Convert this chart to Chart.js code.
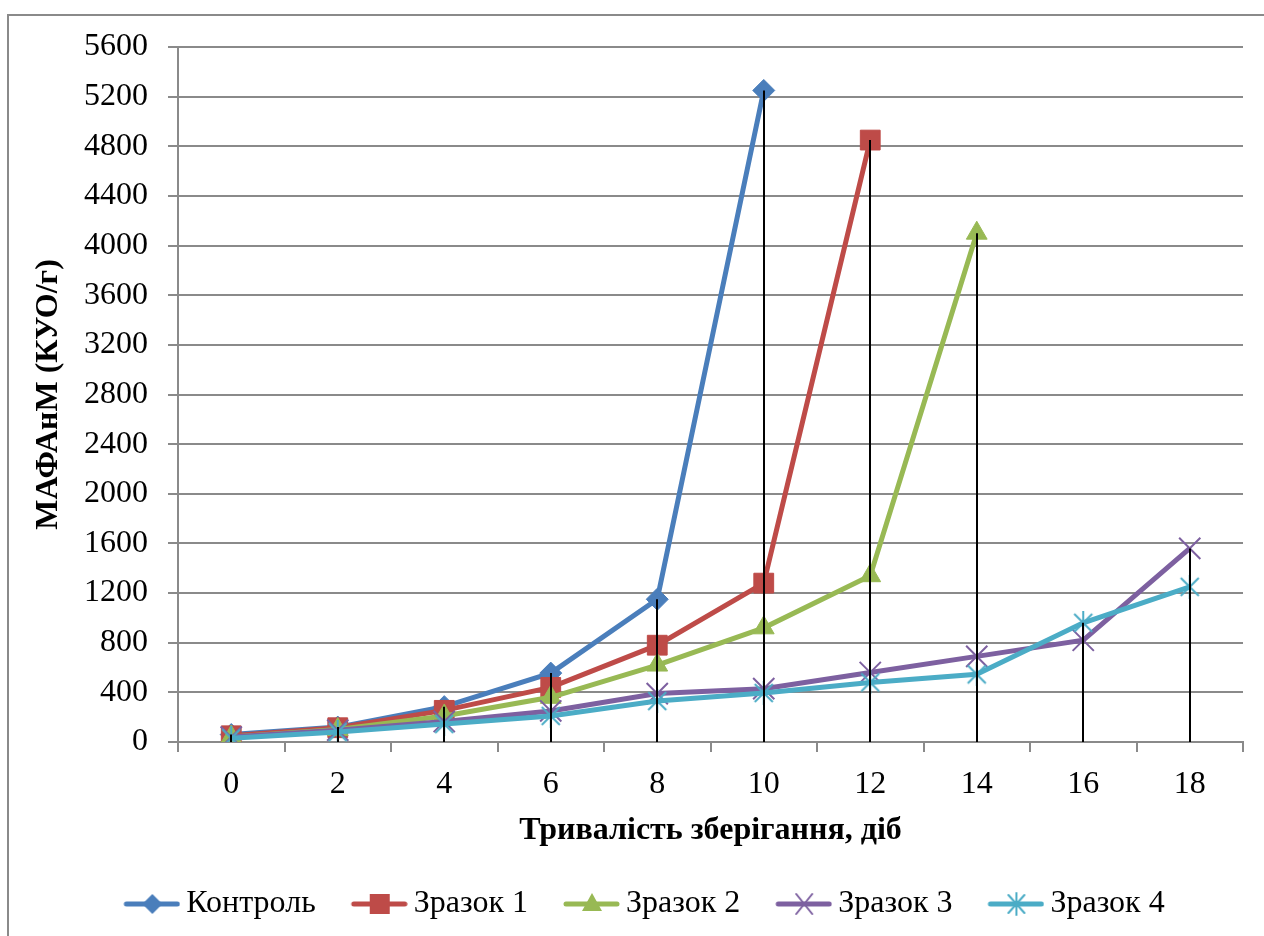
<!DOCTYPE html>
<html>
<head>
<meta charset="utf-8">
<script src="https://cdn.jsdelivr.net/npm/chart.js@4.4.1/dist/chart.umd.min.js"></script>
<style>
  html, body { margin: 0; padding: 0; background: #ffffff; }
  #wrap { position: relative; width: 1264px; height: 936px; overflow: hidden; }
  #frame { position: absolute; left: 7px; top: 14px; width: 1270px; height: 940px;
           border: 2px solid #8a8a8a; box-sizing: border-box; }
  canvas { position: absolute; left: 0; top: 0; }
</style>
</head>
<body>
<div id="wrap">
  <div id="frame"></div>
  <canvas id="chart" width="1264" height="936"></canvas>
</div>
<script>
// Storage time, days
const days = ['0', '2', '4', '6', '8', '10', '12', '14', '16', '18'];

// МАФАнМ, КУО/г
const kontrol = [60, 120, 285, 555, 1150, 5250, null, null, null, null];
const zrazok1 = [50, 115, 255, 440, 780, 1280, 4850, null, null, null];
const zrazok2 = [40, 100, 210, 360, 620, 920, 1340, 4100, null, null];
const zrazok3 = [40, 95, 165, 250, 390, 430, 560, 690, 820, 1560];
const zrazok4 = [30, 80, 145, 210, 330, 395, 480, 545, 960, 1250];

const seriesNames = ['Контроль', 'Зразок 1', 'Зразок 2', 'Зразок 3', 'Зразок 4'];
const yTicks = [0, 400, 800, 1200, 1600, 2000, 2400, 2800, 3200, 3600, 4000, 4400, 4800, 5200, 5600];

const COLORS = ['#4a7ebb', '#be4b48', '#98b954', '#7d60a0', '#4bacc6'];
const FONT = 'Liberation Serif, Times New Roman, serif';
const FONT_SIZE = 32;

// Asterisk marker: diagonal cross plus a vertical stroke
function asteriskCanvas(color) {
  const c = document.createElement('canvas');
  c.width = 24; c.height = 24;
  const g = c.getContext('2d');
  g.strokeStyle = color; g.lineWidth = 2;
  g.beginPath();
  g.moveTo(3, 3); g.lineTo(21, 21);
  g.moveTo(21, 3); g.lineTo(3, 21);
  g.moveTo(12, 0); g.lineTo(12, 24);
  g.stroke();
  return c;
}

function drawMarker(g, kind, color, x, y) {
  g.fillStyle = color; g.strokeStyle = color;
  g.beginPath();
  if (kind === 'diamond') {
    g.moveTo(x, y - 10); g.lineTo(x + 10, y); g.lineTo(x, y + 10); g.lineTo(x - 10, y); g.closePath(); g.fill();
  } else if (kind === 'square') {
    g.fillRect(x - 10, y - 10, 20, 20);
  } else if (kind === 'triangle') {
    g.moveTo(x, y - 11); g.lineTo(x + 10, y + 7); g.lineTo(x - 10, y + 7); g.closePath(); g.fill();
  } else if (kind === 'cross') {
    g.lineWidth = 2;
    g.moveTo(x - 8, y - 10); g.lineTo(x + 8, y + 10);
    g.moveTo(x + 8, y - 10); g.lineTo(x - 8, y + 10); g.stroke();
  } else if (kind === 'asterisk') {
    g.lineWidth = 2;
    g.moveTo(x - 8, y - 9); g.lineTo(x + 8, y + 9);
    g.moveTo(x + 8, y - 9); g.lineTo(x - 8, y + 9);
    g.moveTo(x, y - 11); g.lineTo(x, y + 11); g.stroke();
  }
}

// Legend key: short line with the series marker in its middle
function legendIcon(color, kind) {
  const c = document.createElement('canvas');
  c.width = 92; c.height = 26;
  const g = c.getContext('2d');
  g.strokeStyle = color; g.lineWidth = 5; g.lineCap = 'round';
  g.beginPath(); g.moveTo(38, 13); g.lineTo(89, 13); g.stroke();
  drawMarker(g, kind, color, 64, 13);
  return c;
}

const markerKinds = ['diamond', 'square', 'triangle', 'cross', 'asterisk'];
const pointStyles = ['rectRot', 'rect', 'triangle', 'crossRot', asteriskCanvas(COLORS[4])];
const pointRadii = [11, 14, 12, 15, 12];
const values = [kontrol, zrazok1, zrazok2, zrazok3, zrazok4];

const datasets = values.map((v, i) => ({
  label: seriesNames[i],
  data: v,
  borderColor: COLORS[i],
  backgroundColor: COLORS[i],
  borderWidth: 5,
  pointStyle: pointStyles[i],
  pointRadius: pointRadii[i],
  pointHoverRadius: pointRadii[i],
  pointBorderWidth: i >= 3 ? 2 : 1,
  pointBorderColor: COLORS[i],
  pointBackgroundColor: COLORS[i],
  tension: 0,
  spanGaps: false,
  order: 5 - i,
  legendIcon: legendIcon(COLORS[i], markerKinds[i])
}));

// Vertical drop lines from the highest point of each day down to the axis
const dropLines = {
  id: 'dropLines',
  afterDatasetsDraw(chart) {
    const { ctx, scales: { x, y } } = chart;
    ctx.save();
    ctx.strokeStyle = '#000000';
    ctx.lineWidth = 2;
    days.forEach((d, idx) => {
      const vals = values.map(s => s[idx]).filter(v => v !== null);
      if (!vals.length) return;
      const top = Math.max(...vals);
      const px = Math.round(x.getPixelForValue(idx));
      ctx.beginPath();
      ctx.moveTo(px, y.getPixelForValue(top));
      ctx.lineTo(px, y.getPixelForValue(0));
      ctx.stroke();
    });
    ctx.restore();
  }
};

new Chart(document.getElementById('chart'), {
  type: 'line',
  data: { labels: days, datasets },
  plugins: [dropLines],
  options: {
    responsive: false,
    animation: false,
    devicePixelRatio: 1,
    layout: { padding: { left: 20, right: 21, top: 47, bottom: 6 } },
    plugins: {
      tooltip: { enabled: false },
      legend: {
        position: 'bottom',
        labels: {
          usePointStyle: true,
          pointStyleWidth: 72,
          padding: 10,
          color: '#000000',
          font: { family: FONT, size: FONT_SIZE },
          sort: (a, b) => a.datasetIndex - b.datasetIndex,
          generateLabels(chart) {
            return chart.data.datasets.map((ds, i) => ({
              text: ds.label,
              datasetIndex: i,
              pointStyle: ds.legendIcon,
              fillStyle: ds.borderColor,
              strokeStyle: ds.borderColor,
              lineWidth: 0,
              fontColor: '#000000',
              hidden: false
            }));
          }
        }
      }
    },
    scales: {
      x: {
        offset: true,
        grid: {
          offset: true,
          drawOnChartArea: false,
          drawTicks: true,
          tickLength: 10,
          color: '#8a8a8a',
          lineWidth: 2
        },
        border: { color: '#8a8a8a', width: 2 },
        ticks: {
          color: '#000000',
          padding: 13,
          maxRotation: 0,
          font: { family: FONT, size: FONT_SIZE }
        },
        title: {
          display: true,
          text: 'Тривалість зберігання, діб',
          color: '#000000',
          font: { family: FONT, size: FONT_SIZE, weight: 'bold' },
          padding: { top: 0, bottom: 28 }
        },
        afterFit(scale) { scale.height = 136; }
      },
      y: {
        min: 0,
        max: 5600,
        afterBuildTicks(scale) { scale.ticks = yTicks.map(v => ({ value: v })); },
        grid: {
          color: '#8a8a8a',
          lineWidth: 2,
          tickLength: 10
        },
        border: { color: '#8a8a8a', width: 2 },
        ticks: {
          color: '#000000',
          padding: 20,
          font: { family: FONT, size: FONT_SIZE },
          callback: (v) => String(v)
        },
        title: {
          display: true,
          text: 'МАФАнМ (КУО/г)',
          color: '#000000',
          font: { family: FONT, size: FONT_SIZE, weight: 'bold' },
          padding: { top: 10, bottom: 0 }
        },
        afterFit(scale) { scale.width = 158; }
      }
    }
  }
});
</script>
</body>
</html>
